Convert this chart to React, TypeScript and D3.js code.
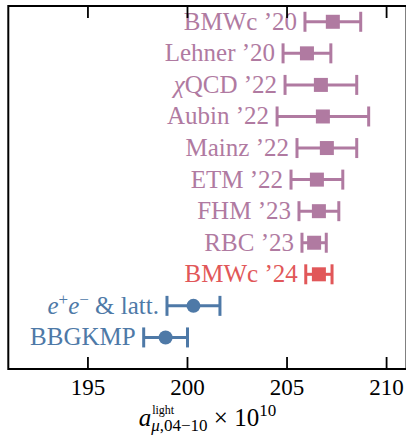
import React from "react";
import * as d3 from "d3";

const labels = ["BMWc ’20", "Lehner ’20", "χQCD ’22", "Aubin ’22", "Mainz ’22", "ETM ’22", "FHM ’23", "RBC ’23", "BMWc ’24", "e+e− & latt.", "BBGKMP"];
const values = [207.3, 206.0, 206.7, 206.8, 207.0, 206.5, 206.6, 206.36, 206.6, 200.3, 198.9];
const errors = [1.4, 1.2, 1.8, 2.3, 1.5, 1.3, 1.0, 0.61, 0.66, 1.33, 1.1];
const groups = ["lat", "lat", "lat", "lat", "lat", "lat", "lat", "lat", "new", "dd", "dd"];
const xTicks = [195, 200, 205, 210];

const colorOf: Record<string, string> = { lat: "#b07aa1", new: "#e15759", dd: "#4e79a7" };

const W = 406, H = 436;
const L = 8.3, R = 406.5, T = 6, B = 369;
const FONT = "'Liberation Serif', 'DejaVu Serif', serif";

function Label({ text, x, y, color }: { text: string; x: number; y: number; color: string }) {
  const common = { x, y, textAnchor: "end" as const, fill: color, fontSize: 25, fontFamily: FONT };
  if (text.startsWith("χ")) {
    return (
      <text {...common}>
        <tspan fontStyle="italic">χ</tspan>
        <tspan>{text.slice(1)}</tspan>
      </text>
    );
  }
  if (text.startsWith("e+e−")) {
    return (
      <text {...common}>
        <tspan fontStyle="italic">e</tspan>
        <tspan fontSize={17} dy={-9}>+</tspan>
        <tspan fontStyle="italic" dy={9}>e</tspan>
        <tspan fontSize={17} dy={-9}>−</tspan>
        <tspan dy={9}>{" & latt."}</tspan>
      </text>
    );
  }
  return <text {...common}>{text}</text>;
}

export default function App() {
  const x = d3.scaleLinear().domain([191, 211]).range([L, R]);
  const y = d3.scaleLinear().domain([-0.5, 11]).range([T, B]);
  const tickLen = 12;
  const capH = 10;
  return (
    <svg width={W} height={H} style={{ position: "absolute", left: 0, top: 0, background: "#fff" }}>
      <rect x={0} y={0} width={W} height={H} fill="#fff" />
      {labels.map((lab, i) => {
        const c = colorOf[groups[i]];
        const cy = y(i);
        const x0 = x(values[i] - errors[i]);
        const x1 = x(values[i] + errors[i]);
        const cx = x(values[i]);
        return (
          <g key={lab}>
            <line x1={x0} x2={x1} y1={cy} y2={cy} stroke={c} strokeWidth={3} />
            <line x1={x0} x2={x0} y1={cy - capH} y2={cy + capH} stroke={c} strokeWidth={3} />
            <line x1={x1} x2={x1} y1={cy - capH} y2={cy + capH} stroke={c} strokeWidth={3} />
            {groups[i] === "dd" ? (
              <circle cx={cx} cy={cy} r={7} fill={c} />
            ) : (
              <rect x={cx - 7} y={cy - 7} width={14} height={14} fill={c} />
            )}
            <Label text={lab} x={x0 - 8} y={cy + 8} color={c} />
          </g>
        );
      })}
      {xTicks.map((t) => (
        <g key={t}>
          <line x1={x(t)} x2={x(t)} y1={B} y2={B - tickLen} stroke="#000" strokeWidth={1.8} />
          <line x1={x(t)} x2={x(t)} y1={T} y2={T + tickLen} stroke="#000" strokeWidth={1.8} />
          <text x={x(t)} y={395} textAnchor="middle" fontSize={23} fontFamily={FONT} fill="#000">
            {t}
          </text>
        </g>
      ))}
      <rect x={L} y={T} width={R - L} height={B - T} fill="none" stroke="#000" strokeWidth={2} />
      <text x={(L + R) / 2} y={426} textAnchor="middle" fontSize={25} fontFamily={FONT} fill="#000">
        <tspan fontStyle="italic">a</tspan>
        <tspan fontSize={12} dx={1} dy={-12}>light</tspan>
        <tspan fontSize={17} dx={-23} dy={17}>
          <tspan fontStyle="italic">μ</tspan>,04−10
        </tspan>
        <tspan dy={-5}>{" × 10"}</tspan>
        <tspan fontSize={17} dy={-10}>10</tspan>
      </text>
    </svg>
  );
}
